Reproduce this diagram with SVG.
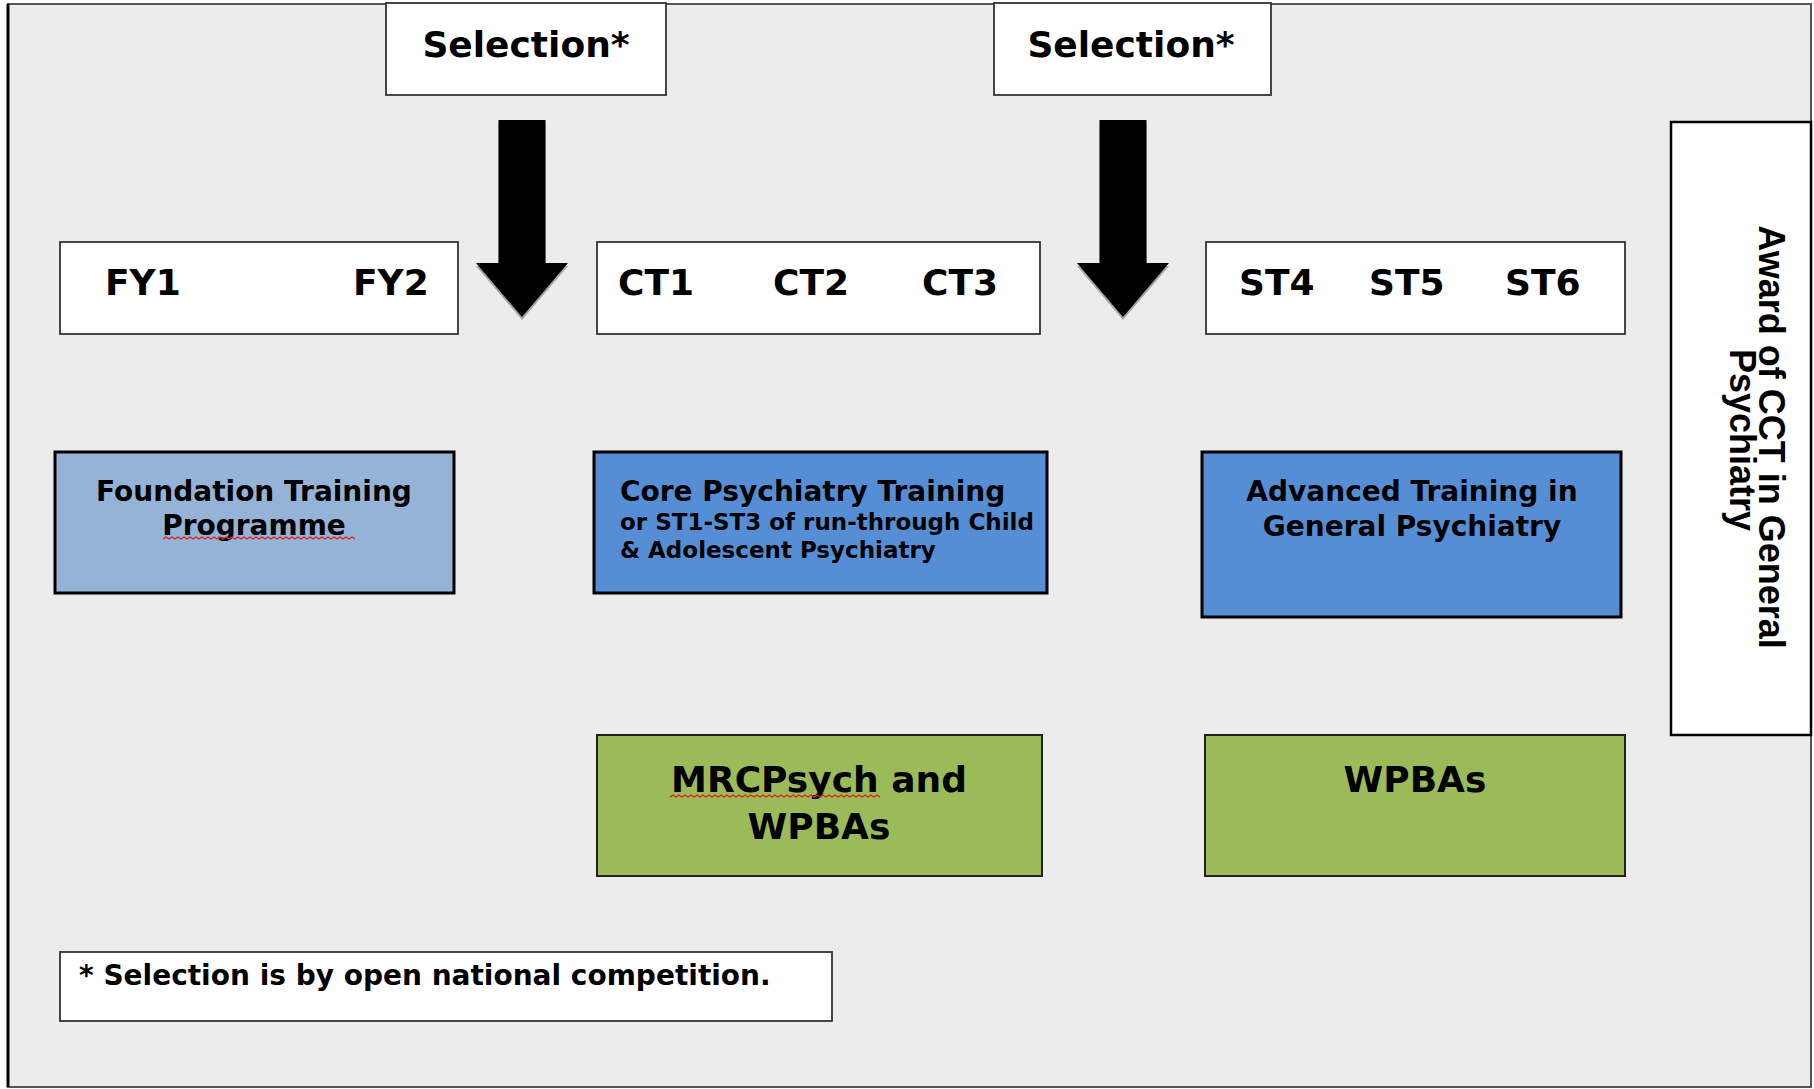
<svg xmlns="http://www.w3.org/2000/svg" width="1814" height="1089" viewBox="0 0 1814 1089">
<style>
.t{font-family:"DejaVu Sans",Verdana,sans-serif;font-weight:bold;fill:#000}
.a{font-family:"Liberation Sans",Arial,sans-serif;font-weight:bold;fill:#000;font-size:36px}
.wbox{fill:#fff;stroke:#333;stroke-width:1.8}
.sq{fill:none;stroke:#e02020;stroke-width:1.3}
</style>
<defs>
<path id="arr" d="M-23.5,0 H23.5 V143 H46 L0,197 L-46,143 H-23.5 Z"/>
</defs>
<rect x="0" y="0" width="1814" height="1089" fill="#fff"/>
<rect id="background" x="8" y="4" width="1803" height="1083" fill="#ececec" stroke="#555" stroke-width="2"/>
<line x1="8" y1="4" x2="8" y2="1087" stroke="#000" stroke-width="3"/>

<g id="connectors">
  <g transform="translate(522,120)">
    <use href="#arr" fill="#777" opacity="0.6" transform="translate(0,3)"/>
    <use href="#arr" fill="#000"/>
  </g>
  <g transform="translate(1123,120)">
    <use href="#arr" fill="#777" opacity="0.6" transform="translate(0,3)"/>
    <use href="#arr" fill="#000"/>
  </g>
</g>

<g id="selection1">
  <rect class="wbox" x="386" y="3" width="280" height="92"/>
  <text class="t" x="526" y="57" font-size="36" text-anchor="middle">Selection*</text>
</g>
<g id="selection2">
  <rect class="wbox" x="994" y="3" width="277" height="92"/>
  <text class="t" x="1131" y="57" font-size="36" text-anchor="middle">Selection*</text>
</g>

<g id="fy">
  <rect class="wbox" x="60" y="242" width="398" height="92"/>
  <text class="t" x="105" y="295" font-size="36">FY1</text>
  <text class="t" x="353" y="295" font-size="36">FY2</text>
</g>
<g id="ct">
  <rect class="wbox" x="597" y="242" width="443" height="92"/>
  <text class="t" x="618" y="295" font-size="36">CT1</text>
  <text class="t" x="773" y="295" font-size="36">CT2</text>
  <text class="t" x="922" y="295" font-size="36">CT3</text>
</g>
<g id="st">
  <rect class="wbox" x="1206" y="242" width="419" height="92"/>
  <text class="t" x="1239" y="295" font-size="36">ST4</text>
  <text class="t" x="1369" y="295" font-size="36">ST5</text>
  <text class="t" x="1505" y="295" font-size="36">ST6</text>
</g>

<g id="award">
  <rect x="1671" y="122" width="140" height="613" fill="#fff" stroke="#000" stroke-width="2.5"/>
  <text class="a" transform="translate(1759,437) rotate(90)" text-anchor="middle">Award of CCT in General</text>
  <text class="a" transform="translate(1730,440) rotate(90)" text-anchor="middle">Psychiatry</text>
</g>

<g id="foundation">
  <rect x="55" y="452" width="399" height="141" fill="#95b3d7" stroke="#000" stroke-width="3"/>
  <text class="t" x="254" y="501" font-size="28" text-anchor="middle">Foundation Training</text>
  <text class="t" x="254" y="535" font-size="28" text-anchor="middle">Programme</text>
  <path class="sq" d="M163,539 l3,-2 l3,2 l3,-2 l3,2 l3,-2 l3,2 l3,-2 l3,2 l3,-2 l3,2 l3,-2 l3,2 l3,-2 l3,2 l3,-2 l3,2 l3,-2 l3,2 l3,-2 l3,2 l3,-2 l3,2 l3,-2 l3,2 l3,-2 l3,2 l3,-2 l3,2 l3,-2 l3,2 l3,-2 l3,2 l3,-2 l3,2 l3,-2 l3,2 l3,-2 l3,2 l3,-2 l3,2 l3,-2 l3,2 l3,-2 l3,2 l3,-2 l3,2 l3,-2 l3,2 l3,-2 l3,2 l3,-2 l3,2 l3,-2 l3,2 l3,-2 l3,2 l3,-2 l3,2 l3,-2 l3,2 l3,-2 l3,2 l3,-2 l3,2"/>
</g>
<g id="core">
  <rect x="594" y="452" width="453" height="141" fill="#558ed5" stroke="#000" stroke-width="3"/>
  <text class="t" x="620" y="501" font-size="28">Core Psychiatry Training</text>
  <text class="t" x="620" y="530" font-size="23">or ST1-ST3 of run-through Child</text>
  <text class="t" x="620" y="558" font-size="23">&amp; Adolescent Psychiatry</text>
</g>
<g id="advanced">
  <rect x="1202" y="452" width="419" height="165" fill="#558ed5" stroke="#000" stroke-width="3"/>
  <text class="t" x="1412" y="501" font-size="28" text-anchor="middle">Advanced Training in</text>
  <text class="t" x="1412" y="536" font-size="28" text-anchor="middle">General Psychiatry</text>
</g>

<g id="mrcpsych">
  <rect x="597" y="735" width="445" height="141" fill="#9bbb59" stroke="#222" stroke-width="2"/>
  <text class="t" x="819" y="792" font-size="36" text-anchor="middle">MRCPsych and</text>
  <text class="t" x="819" y="839" font-size="36" text-anchor="middle">WPBAs</text>
  <path class="sq" d="M670,797 l3,-2 l3,2 l3,-2 l3,2 l3,-2 l3,2 l3,-2 l3,2 l3,-2 l3,2 l3,-2 l3,2 l3,-2 l3,2 l3,-2 l3,2 l3,-2 l3,2 l3,-2 l3,2 l3,-2 l3,2 l3,-2 l3,2 l3,-2 l3,2 l3,-2 l3,2 l3,-2 l3,2 l3,-2 l3,2 l3,-2 l3,2 l3,-2 l3,2 l3,-2 l3,2 l3,-2 l3,2 l3,-2 l3,2 l3,-2 l3,2 l3,-2 l3,2 l3,-2 l3,2 l3,-2 l3,2 l3,-2 l3,2 l3,-2 l3,2 l3,-2 l3,2 l3,-2 l3,2 l3,-2 l3,2 l3,-2 l3,2 l3,-2 l3,2 l3,-2 l3,2 l3,-2 l3,2 l3,-2 l3,2"/>
</g>
<g id="wpbas">
  <rect x="1205" y="735" width="420" height="141" fill="#9bbb59" stroke="#222" stroke-width="2"/>
  <text class="t" x="1415" y="792" font-size="36" text-anchor="middle">WPBAs</text>
</g>

<g id="footnote">
  <rect class="wbox" x="60" y="952" width="772" height="69"/>
  <text class="t" x="79" y="985" font-size="28">* Selection is by open national competition.</text>
</g>
</svg>
